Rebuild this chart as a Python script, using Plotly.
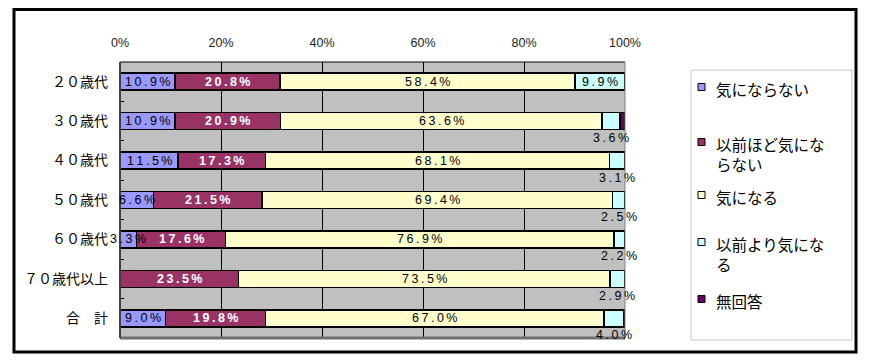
import plotly.graph_objects as go

categories = ["２０歳代", "３０歳代", "４０歳代", "５０歳代", "６０歳代", "７０歳代以上", "合　計"]
series_names = ["気にならない", "以前ほど気にならない", "気になる", "以前より気になる", "無回答"]
legend_labels = ["気にならない", "以前ほど気にな<br>らない", "気になる", "以前より気にな<br>る", "無回答"]
v_not = [10.9, 10.9, 11.5, 6.6, 3.3, 0.0, 9.0]
v_less = [20.8, 20.9, 17.3, 21.5, 17.6, 23.5, 19.8]
v_care = [58.4, 63.6, 68.1, 69.4, 76.9, 73.5, 67.0]
v_more = [9.9, 3.6, 3.1, 2.5, 2.2, 2.9, 4.0]
v_na = [0.0, 1.0, 0.0, 0.0, 0.0, 0.1, 0.2]
colors = ["#9999FF", "#993366", "#FFFFCC", "#CCFFFF", "#660066"]
label_colors = ["black", "white", "black", "black", None]
x_ticks = [0, 20, 40, 60, 80, 100]
x_ticktext = ["0%", "20%", "40%", "60%", "80%", "100%"]

# page body has an 8px margin; work in window pixels and shift
OFF = 8
W, H = 873 - OFF, 362 - OFF
PL, PR, PT, PB = 120, 625, 62, 338


def px(x):
    return (x - PL) / (PR - PL)


def py(y):
    return (PB - y) / (PB - PT)


def spaced(s):
    return "\u2009".join(s)


all_vals = [v_not, v_less, v_care, v_more, v_na]
fig = go.Figure()
for name, vals, col in zip(series_names, all_vals, colors):
    fig.add_trace(go.Bar(
        y=categories, x=vals, name=name, orientation="h",
        marker=dict(color=col, line=dict(color="black", width=1.5)),
        width=0.43, showlegend=False, hoverinfo="x+name",
    ))

annotations = []
for ci, cat in enumerate(categories):
    cum = 0.0
    for si, vals in enumerate(all_vals):
        v = vals[ci]
        center = cum + v / 2
        cum += v
        if label_colors[si] is None or v <= 0:
            continue
        outside = (si == 3 and v < 5)
        annotations.append(dict(
            x=center, y=cat, xref="x", yref="y", showarrow=False,
            text=("<b>%s</b>" if si == 1 else "%s") % spaced("%.1f%%" % v),
            font=dict(family="Liberation Sans, Arial", size=12.5,
                      color="black" if outside else label_colors[si]),
            xanchor="center", yanchor="middle",
            yshift=-17 if outside else 0,
        ))

# custom legend
leg_rows = [87, 142, 195, 242, 299]
shapes = []
for (lab, col, yc) in zip(legend_labels, colors, leg_rows):
    shapes.append(dict(type="rect", xref="paper", yref="paper",
                       x0=px(698), x1=px(705), y0=py(yc + 3.5), y1=py(yc - 3.5),
                       fillcolor=col, line=dict(color="black", width=1)))
    annotations.append(dict(
        x=px(714), y=py(yc - 11), xref="paper", yref="paper",
        text=lab, showarrow=False, xanchor="left", yanchor="top", align="left",
        font=dict(family="Noto Sans CJK JP", size=15.5, color="black"),
    ))
shapes.append(dict(type="rect", xref="paper", yref="paper",
                   x0=px(691), x1=px(852), y0=py(340), y1=py(70),
                   line=dict(color="#C8C8C8", width=1), layer="below"))
# outer frame
shapes.append(dict(type="rect", xref="paper", yref="paper",
                   x0=px(14), x1=px(856), y0=py(352), y1=py(9.5),
                   line=dict(color="black", width=3)))
# plot area borders
shapes += [
    dict(type="line", xref="paper", yref="paper", x0=0, x1=1, y0=1, y1=1,
         line=dict(color="black", width=1)),
    dict(type="line", xref="paper", yref="paper", x0=1, x1=1, y0=0, y1=1,
         line=dict(color="#808080", width=1)),
    dict(type="line", xref="paper", yref="paper", x0=0, x1=1, y0=0, y1=0,
         line=dict(color="#707070", width=3)),
    dict(type="line", xref="paper", yref="paper", x0=0, x1=0, y0=0, y1=1,
         line=dict(color="#404040", width=2)),
]

fig.update_layout(
    width=W, height=H, barmode="stack", bargap=0.57,
    margin=dict(l=PL - OFF, r=873 - PR, t=PT - OFF, b=362 - PB, pad=0),
    paper_bgcolor="white", plot_bgcolor="#C0C0C0",
    annotations=annotations, shapes=shapes, showlegend=False,
    font=dict(family="Noto Sans CJK JP", color="black"),
)
fig.update_xaxes(
    side="top", range=[0, 100], tickvals=x_ticks, ticktext=x_ticktext,
    showgrid=True, gridcolor="black", gridwidth=1, zeroline=False,
    ticks="", ticklabelstandoff=12,
    tickfont=dict(family="Liberation Sans, Arial", size=12.5, color="#222"),
    showline=False, fixedrange=True,
)
fig.update_yaxes(
    type="category", autorange="reversed", categoryorder="array", categoryarray=categories,
    ticks="inside", tickson="boundaries", ticklen=4, tickcolor="black", tickwidth=1,
    showgrid=False, zeroline=False, showline=False, ticklabelstandoff=11,
    tickfont=dict(family="Noto Sans CJK JP", size=14, color="black"),
    fixedrange=True,
)
fig.write_html("out.html")
